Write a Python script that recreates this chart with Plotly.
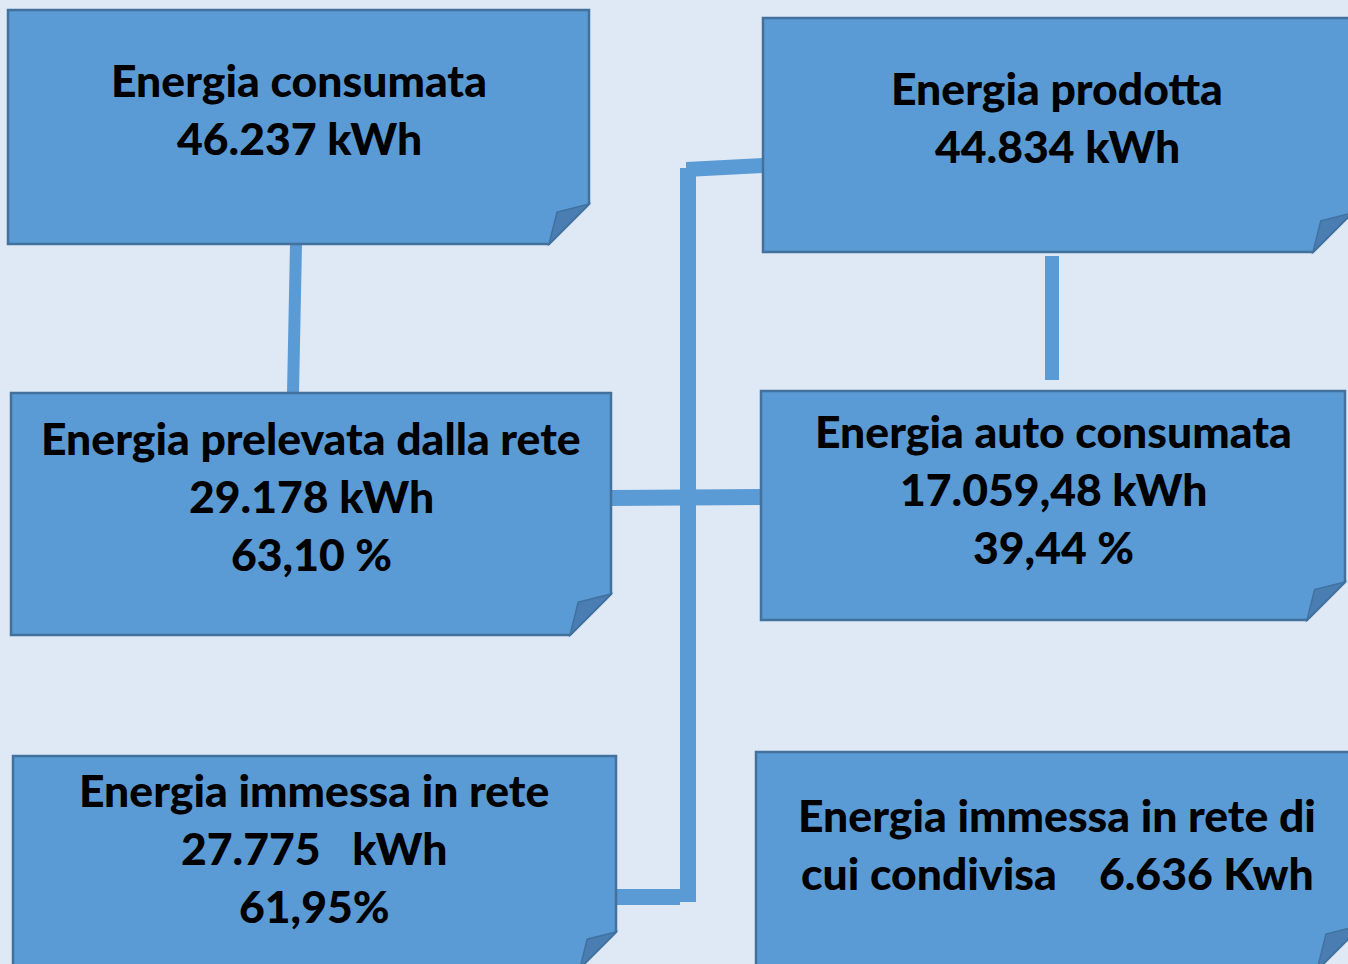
import plotly.graph_objects as go

# ---- content (text data) ----
box_titles = [
    "Energia consumata",
    "Energia prodotta",
    "Energia prelevata dalla rete",
    "Energia auto consumata",
    "Energia immessa in rete",
    "Energia immessa in rete di",
]
box_values = [
    ["46.237 kWh"],
    ["44.834 kWh"],
    ["29.178 kWh", "63,10 %"],
    ["17.059,48 kWh", "39,44 %"],
    ["27.775\u00a0\u00a0\u00a0kWh", "61,95%"],
    ["cui condivisa\u00a0\u00a0\u00a0\u00a06.636 Kwh"],
]

# ---- layout geometry (pixels, y downwards) ----
# (x0, y0, x1, y1, fold, text_cx, first_line_y)
box_geom = [
    (8, 10, 589, 244, 40, 299, 79),
    (763, 18, 1352, 252, 39, 1057, 87),
    (11, 393, 611, 635, 41, 311, 437),
    (761, 391, 1345, 620, 38, 1053, 430),
    (13, 756, 616, 968, 36, 314, 789),
    (756, 752, 1362, 970, 45, 1057, 814),
]
line_gap = 58

connectors = [
    [(290, 244), (302, 244), (299, 393), (287, 393)],
    [(1045, 256), (1059, 256), (1059, 380), (1045, 380)],
    [(686, 162), (763, 158), (763, 173), (686, 177)],
    [(680, 168), (696, 168), (696, 902), (680, 902)],
    [(616, 889), (680, 889), (680, 905), (616, 905)],
    [(611, 490), (761, 489), (761, 505), (611, 506)],
]

BG = "#dfe9f5"
FILL = "#5b9bd5"
EDGE = "#41719c"
FOLD = "#4a7eb3"

def poly(pts):
    return "M " + " L ".join(f"{x} {y}" for x, y in pts) + " Z"

shapes = []
for pts in connectors:
    shapes.append(dict(type="path", xref="x", yref="y", path=poly(pts),
                       fillcolor=FILL, line=dict(width=0), layer="above"))

for (x0, y0, x1, y1, f, cx, ty) in box_geom:
    body = [(x0, y0), (x1, y0), (x1, y1 - f), (x1 - f, y1), (x0, y1)]
    shapes.append(dict(type="path", xref="x", yref="y", path=poly(body),
                       fillcolor=FILL, line=dict(color=EDGE, width=2.5), layer="above"))
    fold = [(x1, y1 - f), (x1 - 0.8 * f, y1 - 0.8 * f), (x1 - f, y1)]
    shapes.append(dict(type="path", xref="x", yref="y", path=poly(fold),
                       fillcolor=FOLD, line=dict(color="#40719f", width=1.5), layer="above"))

annotations = []
for title, vals, g in zip(box_titles, box_values, box_geom):
    cx, ty = g[5], g[6]
    for i, line in enumerate([title] + vals):
        annotations.append(dict(x=cx, y=ty + i * line_gap, xref="x", yref="y",
                                text=line, showarrow=False, xanchor="center", yanchor="middle",
                                font=dict(family="Lato", size=44.5, color="#000000", weight=900)))

fig = go.Figure()
fig.add_trace(go.Scatter(x=[0, 1348], y=[0, 964], mode="markers",
                         marker=dict(opacity=0), hoverinfo="skip", showlegend=False))
fig.update_layout(
    width=1348, height=964,
    margin=dict(l=0, r=0, t=0, b=0),
    paper_bgcolor=BG, plot_bgcolor=BG,
    xaxis=dict(range=[0, 1348], visible=False, fixedrange=True),
    yaxis=dict(range=[964, 0], visible=False, fixedrange=True),
    shapes=shapes, annotations=annotations,
    showlegend=False,
)
fig.write_html("out.html", config={"displayModeBar": False},
               post_script="document.body.style.margin='0';document.body.style.background='%s';" % BG)
